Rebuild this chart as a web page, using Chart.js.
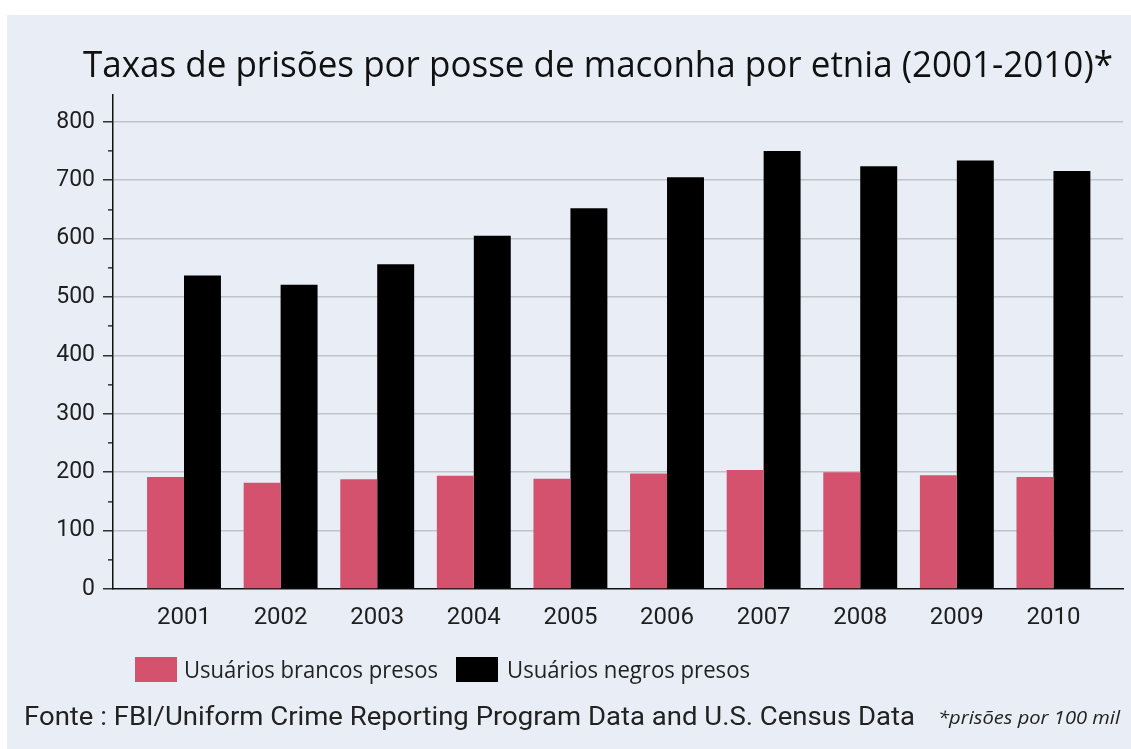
<!DOCTYPE html>
<html>
<head>
<meta charset="utf-8">
<script src="https://cdn.jsdelivr.net/npm/chart.js@4.4.1/dist/chart.umd.min.js"></script>
<style>
  html, body { margin: 0; padding: 0; background: #ffffff; width: 1131px; height: 749px; overflow: hidden; }
  #panel { position: absolute; left: 7px; top: 15px; width: 1124px; height: 734px; background: #e9eef6; }
  #chart { position: absolute; left: 0; top: 0; }
  #overlay { position: absolute; left: 0; top: 0; }
</style>
</head>
<body>
<div id="panel"></div>
<canvas id="chart" width="1131" height="640"></canvas>
<svg id="overlay" width="1131" height="749" xmlns="http://www.w3.org/2000/svg"></svg>
<script>
// Arrest rates for marijuana possession, per 100,000 people
const years = [2001, 2002, 2003, 2004, 2005, 2006, 2007, 2008, 2009, 2010];
const whiteRates = [192, 182, 188, 194, 189, 198, 204, 200, 195, 192];
const blackRates = [537, 521, 556, 605, 652, 705, 750, 724, 734, 716];
const seriesNames = ['Usuários brancos presos', 'Usuários negros presos'];
const seriesColors = ['#d4526e', '#000000'];
const yTickValues = [0, 100, 200, 300, 400, 500, 600, 700, 800];

const titleText = 'Taxas de prisões por posse de maconha por etnia (2001-2010)*';
const sourceText = 'Fonte : FBI/Uniform Crime Reporting Program Data and U.S. Census Data';
const noteText = '*prisões por 100 mil';

const GRID = '#c0c4ca';
const AXIS = '#111111';
const TEXT = '#1e1e1e';
const TICK_FONT = 'Roboto';

function toPoints(values) {
  return values.map((v, i) => ({ x: years[i], y: v }));
}

const chart = new Chart(document.getElementById('chart'), {
  type: 'bar',
  data: {
    datasets: [
      { label: seriesNames[0], data: toPoints(whiteRates), backgroundColor: seriesColors[0], borderWidth: 0 },
      { label: seriesNames[1], data: toPoints(blackRates), backgroundColor: seriesColors[1], borderWidth: 0 }
    ]
  },
  options: {
    responsive: false,
    animation: false,
    devicePixelRatio: 1,
    categoryPercentage: 0.765,
    barPercentage: 1,
    layout: { padding: { left: 0, right: 8, top: 95, bottom: 11 } },
    plugins: {
      legend: { display: false },
      title: { display: false },
      tooltip: { enabled: false }
    },
    scales: {
      x: {
        type: 'linear',
        offset: false,
        min: 2000.265,
        max: 2010.72,
        grid: { display: false, offset: false },
        border: { display: true, color: AXIS, width: 1.5 },
        ticks: {
          stepSize: 1,
          includeBounds: false,
          autoSkip: false,
          maxRotation: 0,
          padding: 7,
          color: TEXT,
          font: { family: TICK_FONT, size: 24 },
          callback: (v) => (years.includes(v) ? String(v) : '')
        },
        afterFit: (scale) => { scale.height = 40; }
      },
      y: {
        min: 0,
        max: 846,
        grid: {
          color: (ctx) => (ctx.tick && ctx.tick.value > 0 && yTickValues.includes(ctx.tick.value) ? GRID : 'rgba(0,0,0,0)'),
          lineWidth: 1.6,
          tickColor: AXIS,
          tickLength: 10,
          tickWidth: 1.3,
          tickBorderDash: (ctx) => (ctx.tick && yTickValues.includes(ctx.tick.value) ? [] : [0, 5, 10])
        },
        border: { display: true, color: AXIS, width: 1.5 },
        ticks: {
          stepSize: 50,
          includeBounds: false,
          padding: 8,
          color: TEXT,
          font: { family: TICK_FONT, size: 23 },
          callback: (v) => (yTickValues.includes(v) ? String(v) : '')
        },
        afterFit: (scale) => { scale.width = 113; }
      }
    }
  }
});

// Text around the plot: title, legend and source line
const svg = document.getElementById('overlay');
const NS = 'http://www.w3.org/2000/svg';

function addText(text, x, y, family, style, size, length, color) {
  const t = document.createElementNS(NS, 'text');
  t.setAttribute('x', x);
  t.setAttribute('y', y);
  t.setAttribute('fill', color);
  t.setAttribute('font-family', family);
  t.setAttribute('font-style', style);
  t.setAttribute('font-size', size);
  t.setAttribute('textLength', length);
  t.setAttribute('lengthAdjust', 'spacingAndGlyphs');
  t.textContent = text;
  svg.appendChild(t);
}

function addRect(x, y, w, h, color) {
  const r = document.createElementNS(NS, 'rect');
  r.setAttribute('x', x); r.setAttribute('y', y);
  r.setAttribute('width', w); r.setAttribute('height', h);
  r.setAttribute('fill', color);
  svg.appendChild(r);
}

addText(titleText, 83, 77, 'Open Sans', 'normal', 37, 1030, '#111111');

// Legend built from the chart's own datasets
const legendLayout = [
  { box: 135, text: 184, width: 254 },
  { box: 456, text: 507, width: 243 }
];
chart.data.datasets.forEach((ds, i) => {
  const L = legendLayout[i];
  addRect(L.box, 657, 42, 25, ds.backgroundColor);
  addText(ds.label, L.text, 678, 'Open Sans', 'normal', 24, L.width, '#222222');
});

addText(sourceText, 24, 725, 'Roboto', 'normal', 25.5, 891, '#222222');
addText(noteText, 938, 724, 'Open Sans', 'italic', 19, 182, '#222222');
</script>
</body>
</html>
